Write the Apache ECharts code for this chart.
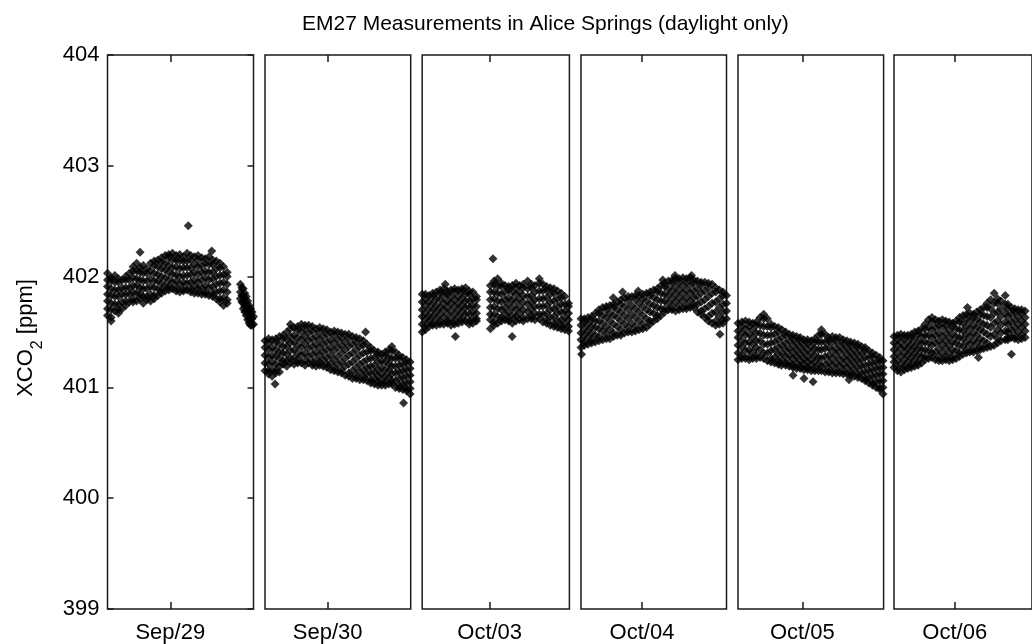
<!DOCTYPE html>
<html>
<head>
<meta charset="utf-8">
<script src="https://cdn.jsdelivr.net/npm/echarts@6/dist/echarts.min.js"></script>
<style>html,body{margin:0;padding:0;background:#fff}#c{width:1032px;height:644px}</style>
</head>
<body>
<div id="c"></div>
<script>
// ---- data (hours of local day, XCO2 ppm); each column: [time, y1, y2, ...] ----
const categories = ['Sep/29', 'Sep/30', 'Oct/03', 'Oct/04', 'Oct/05', 'Oct/06'];
const yTicks = [399, 400, 401, 402, 403, 404];
const dayTick = 12;
const xMin = [7.70, 7.71, 7.38, 7.82, 7.59, 7.60];
const xMax = [17.70, 17.69, 17.46, 17.79, 17.56, 17.60];

const sep29 = [
[7.70,402.03,401.97,401.91,401.84,401.78,401.71,401.65],
[7.95,401.99,401.96,401.89,401.83,401.76,401.70,401.63,401.60],
[8.20,402.01,401.95,401.88,401.82,401.75,401.69],
[8.45,401.98,401.95,401.88,401.82,401.75,401.70,401.67],
[8.70,401.97,401.90,401.84,401.77,401.71],
[8.95,402.00,401.97,401.90,401.84,401.78,401.74],
[9.20,402.03,401.97,401.90,401.84,401.77],
[9.45,402.09,402.05,401.99,401.92,401.86,401.80,401.77],
[9.70,402.12,402.05,401.98,401.92,401.85,401.78],
[9.93,402.22,402.08,402.04,401.97,401.90,401.84,401.80],
[10.15,402.10,402.03,401.96,401.89,401.82,401.76],
[10.40,402.07,402.03,401.96,401.89,401.82,401.79],
[10.65,402.12,402.05,401.98,401.91,401.84,401.78],
[10.90,402.14,402.10,402.03,401.96,401.90,401.83,401.80],
[11.15,402.15,402.09,402.02,401.96,401.89,401.83],
[11.40,402.17,402.13,402.07,402.00,401.94,401.88,401.85],
[11.65,402.19,402.12,402.06,401.99,401.92,401.87],
[11.90,402.20,402.17,402.10,402.04,401.97,401.91,401.88],
[12.15,402.21,402.15,402.08,402.02,401.95,401.89],
[12.40,402.19,402.15,402.09,402.02,401.96,401.90,401.87],
[12.65,402.20,402.14,402.07,402.00,401.93,401.86],
[12.90,402.18,402.14,402.08,402.01,401.95,401.89,401.87],
[13.15,402.21,402.14,402.08,402.01,401.94,401.88],
[13.23,402.46],
[13.40,402.19,402.15,402.08,402.02,401.95,401.89,401.86],
[13.65,402.18,402.11,402.04,401.97,401.91,401.85],
[13.90,402.19,402.15,402.09,402.02,401.95,401.89,401.85],
[14.15,402.17,402.10,402.04,401.97,401.90,401.84],
[14.40,402.16,402.12,402.05,401.99,401.92,401.86,401.84],
[14.65,402.18,402.11,402.04,401.97,401.90,401.83],
[14.84,402.23],
[14.90,402.15,402.11,402.04,401.98,401.91,401.85,401.82],
[15.15,402.14,402.07,402.00,401.93,401.86,401.80],
[15.40,402.12,402.08,402.01,401.94,401.87,401.80,401.77],
[15.65,402.09,402.02,401.95,401.88,401.81,401.74],
[15.90,402.04,402.00,401.93,401.86,401.79,401.76],
[16.80,401.93,401.86,401.80],
[16.90,401.90,401.83,401.77],
[17.00,401.89,401.82,401.76,401.71],
[17.10,401.85,401.79,401.73,401.68],
[17.20,401.82,401.76,401.70,401.65],
[17.30,401.78,401.72,401.66,401.61],
[17.40,401.74,401.68,401.62,401.58],
[17.50,401.71,401.65,401.59,401.56],
[17.60,401.68,401.62,401.56],
[17.70,401.64,401.57]
];

const sep30 = [
[7.71,401.42,401.36,401.29,401.22,401.15],
[7.95,401.44,401.40,401.34,401.27,401.21,401.15,401.12],
[8.20,401.43,401.36,401.29,401.23,401.16,401.10],
[8.40,401.03],
[8.45,401.44,401.41,401.34,401.28,401.21,401.15,401.13],
[8.70,401.46,401.39,401.32,401.26,401.19,401.14],
[8.95,401.47,401.44,401.37,401.31,401.24,401.21],
[9.20,401.50,401.43,401.37,401.30,401.24,401.19],
[9.45,401.57,401.53,401.46,401.40,401.33,401.26,401.22],
[9.70,401.54,401.47,401.41,401.34,401.27,401.21],
[9.95,401.55,401.52,401.45,401.38,401.31,401.25,401.22],
[10.20,401.57,401.50,401.43,401.36,401.29,401.22],
[10.45,401.56,401.53,401.46,401.39,401.31,401.24,401.20],
[10.70,401.56,401.49,401.42,401.35,401.28,401.22],
[10.95,401.55,401.51,401.44,401.37,401.30,401.23,401.20],
[11.20,401.53,401.46,401.39,401.32,401.25,401.19],
[11.45,401.54,401.50,401.43,401.36,401.29,401.23,401.20],
[11.70,401.53,401.46,401.39,401.32,401.25,401.19],
[11.95,401.52,401.48,401.41,401.34,401.27,401.21,401.18],
[12.20,401.50,401.43,401.36,401.29,401.22,401.16],
[12.45,401.51,401.47,401.40,401.33,401.25,401.18,401.15],
[12.70,401.50,401.43,401.36,401.28,401.21,401.14],
[12.95,401.49,401.45,401.38,401.31,401.23,401.16,401.13],
[13.20,401.48,401.41,401.34,401.26,401.19,401.11],
[13.45,401.48,401.44,401.37,401.29,401.21,401.13,401.10],
[13.70,401.46,401.39,401.31,401.23,401.15,401.08],
[13.95,401.45,401.41,401.34,401.26,401.18,401.11,401.08],
[14.20,401.44,401.37,401.29,401.21,401.14,401.07],
[14.45,401.42,401.38,401.31,401.23,401.16,401.10,401.07],
[14.60,401.50],
[14.70,401.39,401.32,401.25,401.18,401.12,401.06],
[14.95,401.36,401.33,401.26,401.19,401.13,401.07,401.04],
[15.20,401.33,401.27,401.20,401.14,401.08,401.03],
[15.45,401.32,401.29,401.23,401.16,401.10,401.05,401.02],
[15.70,401.30,401.24,401.18,401.12,401.06,401.02],
[15.95,401.32,401.29,401.23,401.16,401.10,401.05,401.02],
[16.20,401.34,401.27,401.21,401.15,401.09,401.03],
[16.40,401.37,401.33,401.26,401.19,401.12,401.06,401.03],
[16.65,401.32,401.26,401.19,401.13,401.06,401.00],
[16.90,401.29,401.26,401.20,401.14,401.08,401.02,400.99],
[17.15,401.27,401.21,401.15,401.09,401.03,400.98],
[17.20,400.86],
[17.40,401.25,401.22,401.16,401.10,401.04,400.99,400.97],
[17.65,401.23,401.17,401.11,401.05,400.99,400.94]
];

const oct03 = [
[7.38,401.84,401.77,401.70,401.64,401.57,401.50],
[7.60,401.84,401.80,401.74,401.67,401.61,401.55,401.52],
[7.85,401.83,401.77,401.71,401.65,401.60,401.55],
[8.10,401.85,401.82,401.76,401.70,401.64,401.58,401.56],
[8.35,401.86,401.80,401.74,401.68,401.62,401.56],
[8.60,401.88,401.85,401.79,401.72,401.66,401.60,401.57],
[8.85,401.89,401.83,401.76,401.70,401.63,401.57],
[8.96,401.93],
[9.10,401.87,401.84,401.78,401.72,401.66,401.60,401.58],
[9.35,401.88,401.82,401.76,401.69,401.62,401.56],
[9.60,401.89,401.86,401.79,401.73,401.66,401.60,401.57],
[9.65,401.46],
[9.85,401.88,401.82,401.76,401.70,401.64,401.58],
[10.10,401.89,401.86,401.80,401.74,401.68,401.62,401.59],
[10.35,401.90,401.84,401.78,401.72,401.66,401.60],
[10.60,401.87,401.84,401.78,401.72,401.66,401.60,401.57],
[10.85,401.86,401.80,401.74,401.68,401.62,401.58],
[11.10,401.82,401.79,401.73,401.67,401.62,401.60],
[12.05,401.92,401.86,401.79,401.72,401.66,401.61,401.53],
[12.23,402.16],
[12.30,401.96,401.93,401.86,401.80,401.73,401.66,401.59,401.56],
[12.55,401.98,401.91,401.85,401.78,401.71,401.64,401.58],
[12.80,401.94,401.91,401.84,401.77,401.70,401.63,401.60],
[13.05,401.92,401.86,401.79,401.72,401.66,401.61],
[13.30,401.91,401.88,401.81,401.75,401.68,401.62,401.60],
[13.54,401.46],
[13.55,401.92,401.86,401.79,401.72,401.65,401.58],
[13.80,401.94,401.90,401.84,401.77,401.70,401.64,401.60],
[14.05,401.92,401.86,401.80,401.73,401.67,401.61],
[14.30,401.93,401.90,401.83,401.77,401.70,401.63,401.60],
[14.60,401.96,401.89,401.82,401.75,401.68,401.62],
[14.85,401.93,401.90,401.83,401.77,401.71,401.65,401.62],
[15.10,401.92,401.86,401.79,401.73,401.67,401.61],
[15.40,401.98,401.94,401.87,401.80,401.73,401.66,401.62],
[15.65,401.93,401.87,401.80,401.73,401.66,401.59],
[15.90,401.91,401.88,401.81,401.74,401.67,401.61,401.58],
[16.15,401.90,401.84,401.77,401.70,401.63,401.56],
[16.40,401.89,401.85,401.78,401.71,401.64,401.58,401.55],
[16.65,401.87,401.80,401.73,401.67,401.60,401.54],
[16.90,401.85,401.81,401.75,401.68,401.61,401.56,401.53],
[17.15,401.82,401.75,401.69,401.63,401.57,401.52],
[17.40,401.76,401.73,401.67,401.61,401.55,401.51]
];

const oct04 = [
[7.82,401.62,401.56,401.49,401.43,401.36],
[7.86,401.30],
[8.05,401.62,401.59,401.53,401.47,401.41,401.38],
[8.30,401.63,401.57,401.51,401.45,401.39],
[8.55,401.64,401.61,401.55,401.49,401.43,401.40],
[8.80,401.67,401.60,401.54,401.47,401.41],
[9.05,401.70,401.67,401.60,401.53,401.46,401.42],
[9.30,401.72,401.65,401.58,401.51,401.43],
[9.55,401.73,401.70,401.63,401.55,401.48,401.44],
[9.80,401.74,401.67,401.60,401.52,401.44],
[10.03,401.81],
[10.05,401.75,401.72,401.65,401.57,401.49,401.46],
[10.30,401.77,401.70,401.63,401.55,401.47],
[10.55,401.79,401.75,401.68,401.60,401.52,401.47],
[10.67,401.86],
[10.80,401.81,401.73,401.65,401.57,401.49],
[11.05,401.82,401.78,401.70,401.62,401.54,401.50],
[11.30,401.82,401.74,401.66,401.58,401.50],
[11.55,401.83,401.79,401.71,401.63,401.55,401.51],
[11.74,401.87],
[11.80,401.83,401.76,401.68,401.60,401.52],
[12.05,401.84,401.80,401.73,401.65,401.57,401.53],
[12.31,401.85,401.78,401.70,401.62,401.54],
[12.55,401.86,401.83,401.75,401.68,401.60,401.57],
[12.80,401.88,401.81,401.74,401.67,401.60],
[13.05,401.89,401.86,401.79,401.72,401.65,401.62],
[13.30,401.92,401.85,401.78,401.71,401.65],
[13.42,401.97],
[13.55,401.94,401.91,401.84,401.78,401.71,401.68],
[13.80,401.96,401.89,401.83,401.76,401.70],
[14.05,401.97,401.94,401.87,401.80,401.73,401.70],
[14.26,402.01],
[14.30,401.98,401.91,401.84,401.77,401.69],
[14.55,401.98,401.95,401.88,401.81,401.74,401.70],
[14.80,401.99,401.92,401.85,401.78,401.71],
[15.05,401.98,401.95,401.88,401.81,401.74,401.71],
[15.30,401.99,401.92,401.85,401.78,401.72],
[15.39,402.01],
[15.55,401.97,401.94,401.87,401.81,401.75,401.72],
[15.80,401.96,401.89,401.82,401.75,401.68],
[16.05,401.95,401.92,401.85,401.77,401.69,401.66],
[16.30,401.95,401.87,401.79,401.71,401.63],
[16.55,401.94,401.90,401.82,401.73,401.64,401.60],
[16.80,401.93,401.85,401.76,401.67,401.58],
[17.05,401.90,401.86,401.77,401.68,401.60,401.56],
[17.30,401.88,401.80,401.72,401.64,401.57],
[17.34,401.48],
[17.55,401.86,401.83,401.75,401.68,401.61,401.58],
[17.79,401.83,401.76,401.69,401.62]
];

const oct05 = [
[7.59,401.58,401.51,401.45,401.38,401.31,401.25],
[7.85,401.59,401.55,401.49,401.42,401.36,401.29,401.26],
[8.10,401.60,401.53,401.47,401.40,401.33,401.26],
[8.35,401.59,401.55,401.48,401.41,401.34,401.28,401.25],
[8.60,401.58,401.52,401.45,401.39,401.32,401.26],
[8.85,401.59,401.56,401.49,401.42,401.36,401.29,401.26],
[9.10,401.63,401.56,401.49,401.42,401.34,401.27],
[9.35,401.66,401.62,401.55,401.47,401.39,401.31,401.26],
[9.60,401.62,401.55,401.47,401.39,401.31,401.24],
[9.85,401.57,401.54,401.47,401.40,401.33,401.26,401.23],
[10.10,401.55,401.48,401.41,401.34,401.27,401.22],
[10.35,401.54,401.50,401.43,401.36,401.30,401.24,401.21],
[10.56,401.20],
[10.60,401.52,401.45,401.38,401.31,401.25],
[10.85,401.50,401.47,401.40,401.34,401.28,401.22,401.20],
[11.10,401.48,401.42,401.35,401.29,401.23,401.19],
[11.35,401.47,401.44,401.38,401.32,401.26,401.20,401.18],
[11.36,401.11],
[11.60,401.46,401.40,401.34,401.28,401.22,401.17],
[11.85,401.45,401.42,401.36,401.30,401.24,401.19,401.17],
[12.10,401.43,401.38,401.32,401.26,401.21,401.16],
[12.11,401.08],
[12.35,401.43,401.40,401.34,401.28,401.23,401.18,401.16],
[12.60,401.42,401.37,401.31,401.25,401.20,401.15],
[12.73,401.05],
[12.85,401.44,401.41,401.35,401.29,401.23,401.17,401.15],
[13.10,401.47,401.41,401.34,401.27,401.21,401.15],
[13.30,401.52,401.48,401.41,401.34,401.26,401.19,401.15],
[13.55,401.48,401.41,401.35,401.28,401.21,401.14],
[13.80,401.45,401.42,401.36,401.29,401.23,401.17,401.14],
[14.05,401.46,401.40,401.33,401.26,401.20,401.13],
[14.30,401.45,401.42,401.35,401.29,401.22,401.16,401.13],
[14.55,401.45,401.38,401.32,401.25,401.19,401.13],
[14.80,401.43,401.40,401.34,401.27,401.21,401.15,401.12],
[15.05,401.42,401.36,401.30,401.24,401.18,401.12],
[15.19,401.07],
[15.30,401.41,401.38,401.32,401.26,401.20,401.14,401.11],
[15.55,401.40,401.34,401.28,401.22,401.16,401.10],
[15.80,401.39,401.36,401.30,401.24,401.18,401.12,401.09],
[16.05,401.37,401.31,401.25,401.19,401.13,401.08],
[16.30,401.36,401.33,401.27,401.20,401.14,401.08,401.06],
[16.55,401.33,401.27,401.21,401.15,401.09,401.04],
[16.80,401.31,401.28,401.22,401.16,401.10,401.04,401.02],
[17.05,401.29,401.23,401.17,401.11,401.05,401.00],
[17.30,401.27,401.24,401.18,401.12,401.06,401.00,400.98],
[17.52,401.24,401.18,401.12,401.06,401.00,400.94]
];

const oct06 = [
[7.60,401.46,401.40,401.34,401.28,401.23,401.18],
[7.85,401.47,401.44,401.38,401.31,401.24,401.18,401.15],
[8.10,401.48,401.41,401.35,401.28,401.21,401.14],
[8.35,401.47,401.44,401.37,401.31,401.25,401.19,401.16],
[8.60,401.47,401.41,401.35,401.29,401.23,401.17],
[8.85,401.48,401.45,401.39,401.33,401.27,401.21,401.18],
[9.10,401.50,401.44,401.37,401.31,401.25,401.19],
[9.35,401.51,401.48,401.41,401.35,401.29,401.23,401.20],
[9.60,401.53,401.46,401.40,401.34,401.28,401.22],
[9.85,401.57,401.53,401.47,401.41,401.34,401.28,401.25],
[10.10,401.61,401.54,401.47,401.40,401.33,401.26],
[10.35,401.63,401.59,401.52,401.45,401.38,401.31,401.27],
[10.60,401.61,401.54,401.47,401.40,401.32,401.25],
[10.85,401.60,401.56,401.49,401.42,401.35,401.28,401.24],
[11.10,401.61,401.54,401.46,401.39,401.31,401.24],
[11.35,401.60,401.56,401.49,401.42,401.35,401.28,401.25],
[11.60,401.59,401.52,401.45,401.38,401.31,401.24],
[11.85,401.58,401.55,401.48,401.41,401.34,401.28,401.25],
[12.10,401.60,401.53,401.46,401.40,401.33,401.26],
[12.35,401.63,401.59,401.52,401.45,401.38,401.31,401.28],
[12.60,401.65,401.58,401.51,401.44,401.37,401.30],
[12.85,401.66,401.62,401.55,401.48,401.41,401.34,401.31],
[12.92,401.72],
[13.10,401.67,401.60,401.53,401.46,401.39,401.32],
[13.35,401.66,401.63,401.56,401.49,401.42,401.35,401.32],
[13.60,401.68,401.61,401.54,401.47,401.40,401.33],
[13.72,401.27],
[13.85,401.70,401.66,401.59,401.52,401.44,401.37,401.34],
[14.10,401.72,401.65,401.57,401.50,401.42,401.35],
[14.35,401.76,401.72,401.64,401.56,401.48,401.40,401.36],
[14.60,401.79,401.71,401.63,401.54,401.46,401.37],
[14.86,401.85,401.76,401.67,401.58,401.48,401.38],
[15.10,401.80,401.76,401.68,401.60,401.52,401.44,401.40],
[15.35,401.78,401.71,401.64,401.56,401.49,401.42],
[15.66,401.83,401.75,401.67,401.59,401.51,401.43],
[15.85,401.75,401.71,401.64,401.57,401.50,401.45,401.43],
[16.10,401.72,401.66,401.59,401.52,401.45],
[16.11,401.30],
[16.35,401.71,401.68,401.61,401.54,401.47,401.44],
[16.60,401.70,401.64,401.57,401.50,401.43],
[16.85,401.70,401.67,401.60,401.54,401.47,401.44],
[17.10,401.69,401.63,401.57,401.51,401.45]
];

const panelData = [sep29, sep30, oct03, oct04, oct05, oct06];

// ---- layout (pixels) ----
const gridLeft = [107.5, 265, 422.2, 581, 738, 894];
const gridWidth = [146, 145.7, 147.2, 145.5, 145.6, 146];
const gridTop = 55;
const gridHeight = 554.3;
const FONT = "'Liberation Sans', Arial, Helvetica, sans-serif";
const INK = '#000';
const LINE = '#1a1a1a';

function expand(cols) {
  const pts = [];
  cols.forEach(c => { for (let i = 1; i < c.length; i++) pts.push([c[0], c[i]]); });
  return pts;
}

const grids = [], xAxes = [], yAxes = [], series = [];
categories.forEach((lab, i) => {
  grids.push({ left: gridLeft[i], top: gridTop, width: gridWidth[i], height: gridHeight,
    show: true, borderColor: LINE, borderWidth: 1.5, backgroundColor: 'transparent' });
  xAxes.push({ type: 'value', gridIndex: i, position: 'bottom', min: xMin[i], max: xMax[i],
    axisLine: { show: false }, splitLine: { show: false },
    axisTick: { show: true, inside: true, length: 7, customValues: [dayTick], lineStyle: { color: LINE, width: 1.5 } },
    axisLabel: { show: true, customValues: [dayTick], formatter: () => lab, margin: 13,
      fontFamily: FONT, fontSize: 22, color: INK } });
  xAxes.push({ type: 'value', gridIndex: i, position: 'top', min: xMin[i], max: xMax[i],
    axisLine: { show: false }, splitLine: { show: false },
    axisTick: { show: true, inside: true, length: 7, customValues: [dayTick], lineStyle: { color: LINE, width: 1.5 } },
    axisLabel: { show: false, customValues: [dayTick] } });
  if (i === 0) {
    yAxes.push({ type: 'value', gridIndex: i, position: 'left', min: yTicks[0], max: yTicks[yTicks.length - 1], interval: 1,
      axisLine: { show: false }, splitLine: { show: false },
      axisTick: { show: true, inside: true, length: 6, lineStyle: { color: LINE, width: 1.5 } },
      axisLabel: { show: true, margin: 8, fontFamily: FONT, fontSize: 22, color: INK },
      name: 'XCO{s|2} [ppm]', nameLocation: 'middle', nameGap: 62, nameRotate: 90,
      nameTextStyle: { fontFamily: FONT, fontSize: 22, color: INK, padding: [0, 12, 0, 0],
        rich: { s: { fontFamily: FONT, fontSize: 16, color: INK, padding: [24, 0, 0, 0] } } } });
    yAxes.push({ type: 'value', gridIndex: i, position: 'right', min: yTicks[0], max: yTicks[yTicks.length - 1], interval: 1,
      axisLine: { show: false }, splitLine: { show: false },
      axisTick: { show: true, inside: true, length: 6, lineStyle: { color: LINE, width: 1.5 } },
      axisLabel: { show: false } });
  } else {
    yAxes.push({ type: 'value', gridIndex: i, min: yTicks[0], max: yTicks[yTicks.length - 1], show: false });
  }
  series.push({ type: 'scatter', xAxisIndex: 2 * i, yAxisIndex: i === 0 ? 0 : i + 1,
    data: expand(panelData[i]), symbol: 'diamond', symbolSize: 9, clip: false,
    itemStyle: { color: INK }, silent: true });
});

const chart = echarts.init(document.getElementById('c'), null, { renderer: 'canvas' });
chart.setOption({
  animation: false,
  backgroundColor: '#fff',
  title: { text: 'EM27 Measurements in Alice Springs (daylight only)', left: 297, top: 9,
    textStyle: { fontFamily: FONT, fontSize: 21, fontWeight: 'normal', color: INK } },
  grid: grids, xAxis: xAxes, yAxis: yAxes, series: series
});
</script>
</body>
</html>
